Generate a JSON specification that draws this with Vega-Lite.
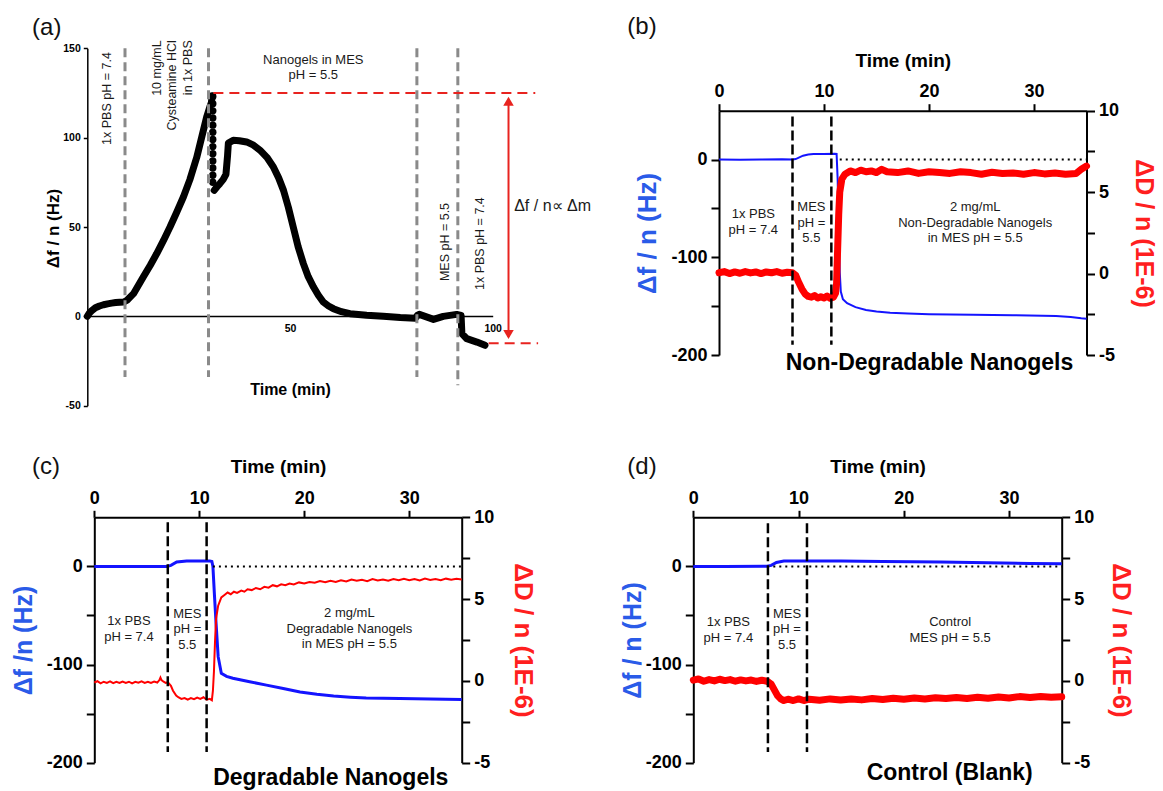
{
"$schema": "https://vega.github.io/schema/vega-lite/v6.json",
"background": "white",
"padding": 0,
"columns": 2,
"spacing": 0,
"bounds": "flush",
"align": "each",
"config": {
  "font": "Liberation Sans",
  "view": {"stroke": null},
  "axis": {"grid": false, "labelFont": "Liberation Sans", "titleFont": "Liberation Sans", "labelFontWeight": "bold", "titleFontWeight": "bold", "labelColor": "#000", "titleColor": "#000", "domainColor": "#000", "tickColor": "#000", "labelOverlap": false, "labelFlush": false},
  "text": {"font": "Liberation Sans"}
},
"concat": [
{
  "width": 580, "height": 440,
  "resolve": {"scale": {"x": "independent", "y": "independent"}},
  "layer": [
    {
      "data": {"values": [
        {"seg":1,"t":0,"v":0},{"seg":1,"t":0.5,"v":1.8},{"seg":1,"t":1,"v":3},{"seg":1,"t":2,"v":4.8},{"seg":1,"t":3,"v":5.8},{"seg":1,"t":4,"v":6.5},{"seg":1,"t":5,"v":7},{"seg":1,"t":6,"v":7.4},{"seg":1,"t":7,"v":7.7},{"seg":1,"t":8,"v":7.9},{"seg":1,"t":9,"v":8},{"seg":1,"t":9.8,"v":9},{"seg":1,"t":11.4,"v":12.7},{"seg":1,"t":13.8,"v":22},{"seg":1,"t":15.5,"v":28.5},{"seg":1,"t":17.1,"v":35},{"seg":1,"t":18.8,"v":42.5},{"seg":1,"t":20.4,"v":50},{"seg":1,"t":22,"v":58},{"seg":1,"t":23.7,"v":66.8},{"seg":1,"t":25.3,"v":76.5},{"seg":1,"t":27,"v":89},{"seg":1,"t":28.3,"v":101},{"seg":1,"t":29.5,"v":112},{"seg":1,"t":30.2,"v":117},{"seg":1,"t":30.6,"v":119.5},{"seg":1,"t":30.8,"v":123.5},
        {"seg":2,"t":31.3,"v":70.5},{"seg":2,"t":32,"v":72.5},{"seg":2,"t":32.7,"v":74.3},{"seg":2,"t":33.5,"v":76.5},{"seg":2,"t":34.2,"v":79.5},{"seg":2,"t":34.6,"v":90},{"seg":2,"t":34.8,"v":97},{"seg":2,"t":36,"v":98.5},{"seg":2,"t":37.5,"v":98.3},{"seg":2,"t":39.3,"v":97.6},{"seg":2,"t":41,"v":95.8},{"seg":2,"t":42.6,"v":93},{"seg":2,"t":44.3,"v":89},{"seg":2,"t":45.9,"v":83.6},{"seg":2,"t":47.2,"v":77.5},{"seg":2,"t":48.4,"v":70.5},{"seg":2,"t":49.6,"v":61},{"seg":2,"t":50.8,"v":50},{"seg":2,"t":52,"v":39},{"seg":2,"t":53.3,"v":29.5},{"seg":2,"t":54.5,"v":22.2},{"seg":2,"t":55.8,"v":16.4},{"seg":2,"t":57,"v":11.8},{"seg":2,"t":58.2,"v":8},{"seg":2,"t":59.5,"v":5.8},{"seg":2,"t":60.7,"v":4.3},{"seg":2,"t":62.7,"v":2.6},{"seg":2,"t":64.8,"v":1.5},{"seg":2,"t":68.9,"v":0.6},{"seg":2,"t":73,"v":0},{"seg":2,"t":77.2,"v":-0.7},{"seg":2,"t":80.9,"v":-1.1},{"seg":2,"t":81.4,"v":0.5},{"seg":2,"t":81.9,"v":1.1},{"seg":2,"t":83.3,"v":0},{"seg":2,"t":85.4,"v":-1.7},{"seg":2,"t":87.8,"v":0},{"seg":2,"t":91.1,"v":1.1},{"seg":2,"t":92.2,"v":0.5},{"seg":2,"t":92.4,"v":-9.7},{"seg":2,"t":93.6,"v":-12.5},{"seg":2,"t":96.1,"v":-14.4},{"seg":2,"t":98.1,"v":-16.2}
      ]},
      "mark": {"type": "line", "color": "#000000", "strokeWidth": 7, "strokeCap": "round", "strokeJoin": "round"},
      "encoding": {
        "x": {"field": "t", "type": "quantitative", "scale": {"domain": [0,100], "range": [87.3,492.7], "nice": false, "zero": false},
              "axis": {"orient": "bottom", "offset": -124, "values": [50,100], "labelFontSize": 10.5, "ticks": false, "tickSize": 0, "domainWidth": 1.5, "labelPadding": 7, "title": "Time (min)", "titleFontSize": 16, "titleX": 290, "titleY": 73, "titleBaseline": "middle", "titleAlign": "center"}},
        "y": {"field": "v", "type": "quantitative", "scale": {"domain": [-50,150], "range": [405.7,48.3], "nice": false, "zero": false},
              "axis": {"orient": "left", "offset": -87.3, "values": [-50,0,50,100,150], "labelExpr": "'' + datum.value", "labelFontSize": 10.5, "tickSize": 4, "tickWidth": 1.5, "domainWidth": 1.5, "labelPadding": 3, "title": "Δf  /  n  (Hz)", "titleFontSize": 17, "titleX": -34, "titleY": 228, "titleAngle": 270, "titleBaseline": "middle", "titleAlign": "center"}},
        "detail": {"field": "seg", "type": "nominal"}
      }
    },
    {
      "data": {"values": [{"t":30.95,"v":123},{"t":30.95,"v":119},{"t":30.95,"v":115},{"t":30.95,"v":111},{"t":30.95,"v":107},{"t":30.95,"v":103},{"t":30.95,"v":99},{"t":30.95,"v":95},{"t":30.95,"v":91},{"t":30.95,"v":87},{"t":30.95,"v":83},{"t":30.95,"v":79},{"t":30.95,"v":75}]},
      "mark": {"type": "point", "filled": true, "color": "#000000", "size": 55, "opacity": 1},
      "encoding": {
        "x": {"field": "t", "type": "quantitative", "scale": {"domain": [0,100], "range": [87.3,492.7], "nice": false, "zero": false}, "axis": null},
        "y": {"field": "v", "type": "quantitative", "scale": {"domain": [-50,150], "range": [405.7,48.3], "nice": false, "zero": false}, "axis": null}
      }
    },
    {
      "data": {"values": [{"t":9.3,"v":150,"v2":-34},{"t":29.9,"v":150,"v2":-34},{"t":81.3,"v":150,"v2":-34},{"t":91.4,"v":150,"v2":-38.6}]},
      "mark": {"type": "rule", "color": "#8a8a8a", "strokeWidth": 3, "strokeDash": [9,5]},
      "encoding": {
        "x": {"field": "t", "type": "quantitative", "scale": {"domain": [0,100], "range": [87.3,492.7], "nice": false, "zero": false}, "axis": null},
        "y": {"field": "v", "type": "quantitative", "scale": {"domain": [-50,150], "range": [405.7,48.3], "nice": false, "zero": false}, "axis": null},
        "y2": {"field": "v2"}
      }
    },
    {
      "data": {"values": [{"t":31.1,"t2":110.5,"v":125},{"t":99,"t2":111.2,"v":-15.1}]},
      "mark": {"type": "rule", "color": "#e8231f", "strokeWidth": 2, "strokeDash": [10,6]},
      "encoding": {
        "x": {"field": "t", "type": "quantitative", "scale": {"domain": [0,100], "range": [87.3,492.7], "nice": false, "zero": false}, "axis": null},
        "x2": {"field": "t2"},
        "y": {"field": "v", "type": "quantitative", "scale": {"domain": [-50,150], "range": [405.7,48.3], "nice": false, "zero": false}, "axis": null}
      }
    },
    {
      "data": {"values": [{"t":103.9,"v":121,"v2":-11.5}]},
      "mark": {"type": "rule", "color": "#e8231f", "strokeWidth": 2},
      "encoding": {
        "x": {"field": "t", "type": "quantitative", "scale": {"domain": [0,100], "range": [87.3,492.7], "nice": false, "zero": false}, "axis": null},
        "y": {"field": "v", "type": "quantitative", "scale": {"domain": [-50,150], "range": [405.7,48.3], "nice": false, "zero": false}, "axis": null},
        "y2": {"field": "v2"}
      }
    },
    {
      "data": {"values": [{"t":103.9,"v":120.4}]},
      "mark": {"type": "point", "shape": "triangle-up", "filled": true, "color": "#e8231f", "size": 110, "opacity": 1},
      "encoding": {
        "x": {"field": "t", "type": "quantitative", "scale": {"domain": [0,100], "range": [87.3,492.7], "nice": false, "zero": false}, "axis": null},
        "y": {"field": "v", "type": "quantitative", "scale": {"domain": [-50,150], "range": [405.7,48.3], "nice": false, "zero": false}, "axis": null}
      }
    },
    {
      "data": {"values": [{"t":103.9,"v":-10.2}]},
      "mark": {"type": "point", "shape": "triangle-down", "filled": true, "color": "#e8231f", "size": 110, "opacity": 1},
      "encoding": {
        "x": {"field": "t", "type": "quantitative", "scale": {"domain": [0,100], "range": [87.3,492.7], "nice": false, "zero": false}, "axis": null},
        "y": {"field": "v", "type": "quantitative", "scale": {"domain": [-50,150], "range": [405.7,48.3], "nice": false, "zero": false}, "axis": null}
      }
    },
    {
      "data": {"values": [{"t":55.75,"v":143.6,"label":"Nanogels in MES\npH = 5.5"}]},
      "mark": {"type": "text", "lineBreak": "\n", "fontSize": 13, "lineHeight": 15.7, "color": "#1a1a1a"},
      "encoding": {
        "x": {"field": "t", "type": "quantitative", "scale": {"domain": [0,100], "range": [87.3,492.7], "nice": false, "zero": false}, "axis": null},
        "y": {"field": "v", "type": "quantitative", "scale": {"domain": [-50,150], "range": [405.7,48.3], "nice": false, "zero": false}, "axis": null},
        "text": {"field": "label"}
      }
    },
    {
      "data": {"values": [{"t":4.8,"v":121.9,"label":"1x PBS pH = 7.4"},{"t":88.2,"v":41.6,"label":"MES pH = 5.5"},{"t":96.9,"v":40.7,"label":"1x PBS pH = 7.4"}]},
      "mark": {"type": "text", "fontSize": 12.5, "angle": 270, "color": "#1a1a1a"},
      "encoding": {
        "x": {"field": "t", "type": "quantitative", "scale": {"domain": [0,100], "range": [87.3,492.7], "nice": false, "zero": false}, "axis": null},
        "y": {"field": "v", "type": "quantitative", "scale": {"domain": [-50,150], "range": [405.7,48.3], "nice": false, "zero": false}, "axis": null},
        "text": {"field": "label"}
      }
    },
    {
      "data": {"values": [{"t":17.1,"v":154.5,"label":"10 mg/mL\nCysteamine HCl\nin 1x  PBS"}]},
      "mark": {"type": "text", "lineBreak": "\n", "fontSize": 12.5, "lineHeight": 15.8, "angle": 270, "align": "right", "baseline": "middle", "color": "#1a1a1a"},
      "encoding": {
        "x": {"field": "t", "type": "quantitative", "scale": {"domain": [0,100], "range": [87.3,492.7], "nice": false, "zero": false}, "axis": null},
        "y": {"field": "v", "type": "quantitative", "scale": {"domain": [-50,150], "range": [405.7,48.3], "nice": false, "zero": false}, "axis": null},
        "text": {"field": "label"}
      }
    },
    {
      "data": {"values": [{"t":105.3,"v":61.6,"label":"Δf / n∝ Δm"}]},
      "mark": {"type": "text", "fontSize": 16, "align": "left", "color": "#1a1a1a"},
      "encoding": {
        "x": {"field": "t", "type": "quantitative", "scale": {"domain": [0,100], "range": [87.3,492.7], "nice": false, "zero": false}, "axis": null},
        "y": {"field": "v", "type": "quantitative", "scale": {"domain": [-50,150], "range": [405.7,48.3], "nice": false, "zero": false}, "axis": null},
        "text": {"field": "label"}
      }
    },
    {
      "data": {"values": [{"t":-10,"v":161.4,"label":"(a)"}]},
      "mark": {"type": "text", "fontSize": 24, "color": "#111"},
      "encoding": {
        "x": {"field": "t", "type": "quantitative", "scale": {"domain": [0,100], "range": [87.3,492.7], "nice": false, "zero": false}, "axis": null},
        "y": {"field": "v", "type": "quantitative", "scale": {"domain": [-50,150], "range": [405.7,48.3], "nice": false, "zero": false}, "axis": null},
        "text": {"field": "label"}
      }
    }
  ]
},
{
  "width": 580, "height": 440,
  "resolve": {"scale": {"x": "independent", "y": "independent"}},
  "layer": [
    {
      "data": {"values": [{"t":0,"v":0},{"t":2,"v":-0.2},{"t":4,"v":0},{"t":6,"v":0.2},{"t":7,"v":0},{"t":7.3,"v":0.5},{"t":7.6,"v":2},{"t":8,"v":4},{"t":8.5,"v":5.2},{"t":9,"v":5.8},{"t":10,"v":5.8},{"t":11,"v":6},{"t":11.2,"v":5.8},{"t":11.3,"v":-20},{"t":11.4,"v":-70},{"t":11.5,"v":-115},{"t":11.6,"v":-135},{"t":11.8,"v":-143},{"t":12.2,"v":-147},{"t":13,"v":-151},{"t":14,"v":-154},{"t":15,"v":-155.5},{"t":16.3,"v":-156.7},{"t":18,"v":-157.5},{"t":20,"v":-158.2},{"t":24.2,"v":-158.7},{"t":28,"v":-159.3},{"t":32.1,"v":-160},{"t":33.5,"v":-161},{"t":34.5,"v":-162.3},{"t":35,"v":-162.8}]},
      "mark": {"type": "line", "color": "#1414ff", "strokeWidth": 2},
      "encoding": {
        "x": {"field": "t", "type": "quantitative", "scale": {"domain": [0,35], "range": [139,506.5], "nice": false, "zero": false},
              "axis": {"orient": "top", "offset": -110.7, "values": [0,10,20,30], "labelFontSize": 18, "tickSize": 7, "tickWidth": 2, "domainWidth": 2, "labelPadding": 3, "title": "Time (min)", "titleFontSize": 19, "titleX": 322.75, "titleY": -50.7, "titleBaseline": "middle", "titleAlign": "center"}},
        "y": {"field": "v", "type": "quantitative", "scale": {"domain": [-200,50], "range": [355,110.7], "nice": false, "zero": false},
              "axis": {"orient": "left", "offset": -139, "values": [-200,-150,-100,-50,0], "labelExpr": "datum.value % 100 === 0 ? '' + datum.value : ''", "labelFontSize": 18, "tickSize": 8, "tickWidth": 2, "domainWidth": 2, "labelPadding": 4, "title": "Δf  /  n (Hz)", "titleColor": "#2a5be8", "titleFontSize": 26, "titleX": -72, "titleY": 233, "titleAngle": 270, "titleBaseline": "middle", "titleAlign": "center"}}
      }
    },
    {
      "data": {"values": [{"t":0,"v":0.05},{"t":0.5,"v":0.12},{"t":1,"v":0},{"t":1.5,"v":0.1},{"t":2,"v":0.02},{"t":2.5,"v":0.12},{"t":3,"v":0.04},{"t":3.5,"v":0.1},{"t":4,"v":0},{"t":4.5,"v":0.1},{"t":5,"v":0.05},{"t":5.5,"v":0.12},{"t":6,"v":0.02},{"t":6.5,"v":0.08},{"t":7,"v":0.05},{"t":7.3,"v":-0.1},{"t":7.6,"v":-0.55},{"t":7.9,"v":-0.95},{"t":8.2,"v":-1.25},{"t":8.5,"v":-1.4},{"t":8.8,"v":-1.45},{"t":9.1,"v":-1.35},{"t":9.4,"v":-1.5},{"t":9.7,"v":-1.42},{"t":10,"v":-1.5},{"t":10.3,"v":-1.38},{"t":10.6,"v":-1.52},{"t":10.9,"v":-1.45},{"t":11.1,"v":-1.2},{"t":11.2,"v":-0.6},{"t":11.3,"v":1.5},{"t":11.4,"v":3.6},{"t":11.5,"v":5},{"t":11.7,"v":5.8},{"t":12,"v":6.1},{"t":12.5,"v":6.3},{"t":13,"v":6.2},{"t":13.5,"v":6.35},{"t":14,"v":6.25},{"t":14.5,"v":6.3},{"t":15,"v":6.2},{"t":15.5,"v":6.4},{"t":16,"v":6.25},{"t":17,"v":6.2},{"t":18,"v":6.3},{"t":19,"v":6.15},{"t":20,"v":6.25},{"t":21,"v":6.2},{"t":22,"v":6.15},{"t":23,"v":6.25},{"t":24,"v":6.2},{"t":25,"v":6.1},{"t":26,"v":6.22},{"t":27,"v":6.15},{"t":28,"v":6.18},{"t":29,"v":6.1},{"t":30,"v":6.2},{"t":31,"v":6.12},{"t":32,"v":6.18},{"t":33,"v":6.1},{"t":34,"v":6.15},{"t":34.5,"v":6.4},{"t":35,"v":6.6}]},
      "mark": {"type": "line", "color": "#ff0000", "strokeWidth": 7, "strokeJoin": "round", "strokeCap": "round"},
      "encoding": {
        "x": {"field": "t", "type": "quantitative", "scale": {"domain": [0,35], "range": [139,506.5], "nice": false, "zero": false}, "axis": null},
        "y": {"field": "v", "type": "quantitative", "scale": {"domain": [-5,10], "range": [355,110.7], "nice": false, "zero": false},
              "axis": {"orient": "right", "offset": -73.5, "values": [-5,-2.5,0,2.5,5,7.5,10], "labelExpr": "datum.value % 5 === 0 ? '' + datum.value : ''", "labelFontSize": 18, "tickSize": 8, "tickWidth": 2, "domainWidth": 2, "labelPadding": 4, "title": "ΔD / n (1E-6)", "titleColor": "#ff1f1f", "titleFontSize": 25, "titleX": 57, "titleY": 233, "titleAngle": 90, "titleBaseline": "middle", "titleAlign": "center"}}
      }
    },
    {
      "data": {"values": [{"t":7.0,"v":44,"v2":-189.6},{"t":10.7,"v":44,"v2":-189.6}]},
      "mark": {"type": "rule", "color": "#000", "strokeWidth": 2.5, "strokeDash": [10,4]},
      "encoding": {
        "x": {"field": "t", "type": "quantitative", "scale": {"domain": [0,35], "range": [139,506.5], "nice": false, "zero": false}, "axis": null},
        "y": {"field": "v", "type": "quantitative", "scale": {"domain": [-200,50], "range": [355,110.7], "nice": false, "zero": false}, "axis": null},
        "y2": {"field": "v2"}
      }
    },
    {
      "data": {"values": [{"t":11.5,"t2":35,"v":0}]},
      "mark": {"type": "rule", "color": "#000", "strokeWidth": 2, "strokeDash": [2,4]},
      "encoding": {
        "x": {"field": "t", "type": "quantitative", "scale": {"domain": [0,35], "range": [139,506.5], "nice": false, "zero": false}, "axis": null},
        "x2": {"field": "t2"},
        "y": {"field": "v", "type": "quantitative", "scale": {"domain": [-200,50], "range": [355,110.7], "nice": false, "zero": false}, "axis": null}
      }
    },
    {
      "data": {"values": [{"t":3.27,"v":-56,"label":"1x PBS\npH = 7.4"},{"t":8.8,"v":-48.5,"label":"MES\npH =\n5.5"},{"t":24.4,"v":-48.5,"label":"2 mg/mL\nNon-Degradable Nanogels\nin MES pH = 5.5"}]},
      "mark": {"type": "text", "lineBreak": "\n", "fontSize": 13, "lineHeight": 15.7, "color": "#1a1a1a"},
      "encoding": {
        "x": {"field": "t", "type": "quantitative", "scale": {"domain": [0,35], "range": [139,506.5], "nice": false, "zero": false}, "axis": null},
        "y": {"field": "v", "type": "quantitative", "scale": {"domain": [-200,50], "range": [355,110.7], "nice": false, "zero": false}, "axis": null},
        "text": {"field": "label"}
      }
    },
    {
      "data": {"values": [{"t":20.05,"v":-208.4,"label":"Non-Degradable Nanogels"}]},
      "mark": {"type": "text", "fontSize": 23, "fontWeight": "bold", "color": "#000"},
      "encoding": {
        "x": {"field": "t", "type": "quantitative", "scale": {"domain": [0,35], "range": [139,506.5], "nice": false, "zero": false}, "axis": null},
        "y": {"field": "v", "type": "quantitative", "scale": {"domain": [-200,50], "range": [355,110.7], "nice": false, "zero": false}, "axis": null},
        "text": {"field": "label"}
      }
    },
    {
      "data": {"values": [{"t":-7.33,"v":135.2,"label":"(b)"}]},
      "mark": {"type": "text", "fontSize": 24, "color": "#111"},
      "encoding": {
        "x": {"field": "t", "type": "quantitative", "scale": {"domain": [0,35], "range": [139,506.5], "nice": false, "zero": false}, "axis": null},
        "y": {"field": "v", "type": "quantitative", "scale": {"domain": [-200,50], "range": [355,110.7], "nice": false, "zero": false}, "axis": null},
        "text": {"field": "label"}
      }
    }
  ]
},
{
  "width": 580, "height": 351,
  "resolve": {"scale": {"x": "independent", "y": "independent"}},
  "layer": [
    {
      "data": {"values": [{"t":0,"v":0},{"t":3,"v":0},{"t":6.9,"v":0},{"t":7.3,"v":1},{"t":7.85,"v":4.4},{"t":8.8,"v":5.5},{"t":10,"v":5.5},{"t":11,"v":5.5},{"t":11.2,"v":5},{"t":11.3,"v":0},{"t":11.45,"v":-30},{"t":11.6,"v":-58},{"t":11.8,"v":-92},{"t":12.1,"v":-109},{"t":12.6,"v":-112},{"t":13.2,"v":-114},{"t":14.8,"v":-117.5},{"t":16.4,"v":-121},{"t":18,"v":-124.5},{"t":19.6,"v":-128},{"t":21.2,"v":-130.3},{"t":22.8,"v":-132},{"t":24.4,"v":-133.2},{"t":25.9,"v":-134},{"t":29.1,"v":-134.6},{"t":32,"v":-135.2},{"t":35,"v":-135.6}]},
      "mark": {"type": "line", "color": "#1414ff", "strokeWidth": 3},
      "encoding": {
        "x": {"field": "t", "type": "quantitative", "scale": {"domain": [0,35], "range": [94.3,461.7], "nice": false, "zero": false},
              "axis": {"orient": "top", "offset": -77.3, "values": [0,10,20,30], "labelFontSize": 18, "tickSize": 7, "tickWidth": 2, "domainWidth": 2, "labelPadding": 3, "title": "Time (min)", "titleFontSize": 19, "titleX": 278, "titleY": -51.3, "titleBaseline": "middle", "titleAlign": "center"}},
        "y": {"field": "v", "type": "quantitative", "scale": {"domain": [-200,50], "range": [322.7,77.3], "nice": false, "zero": false},
              "axis": {"orient": "left", "offset": -94.3, "values": [-200,-150,-100,-50,0], "labelExpr": "datum.value % 100 === 0 ? '' + datum.value : ''", "labelFontSize": 18, "tickSize": 8, "tickWidth": 2, "domainWidth": 2, "labelPadding": 4, "title": "Δf /n (Hz)", "titleColor": "#2a5be8", "titleFontSize": 25, "titleX": -71, "titleY": 200, "titleAngle": 270, "titleBaseline": "middle", "titleAlign": "center"}}
      }
    },
    {
      "data": {"values": [{"t":0,"v":-0.1},{"t":0.3,"v":-0.02},{"t":0.6,"v":-0.15},{"t":0.9,"v":-0.05},{"t":1.2,"v":-0.12},{"t":1.5,"v":-0.03},{"t":1.8,"v":-0.14},{"t":2.1,"v":-0.06},{"t":2.4,"v":-0.13},{"t":2.7,"v":-0.04},{"t":3,"v":-0.12},{"t":3.3,"v":-0.05},{"t":3.6,"v":-0.15},{"t":3.9,"v":-0.06},{"t":4.2,"v":-0.11},{"t":4.5,"v":-0.03},{"t":4.8,"v":-0.12},{"t":5.1,"v":-0.05},{"t":5.4,"v":-0.13},{"t":5.7,"v":-0.04},{"t":6,"v":-0.1},{"t":6.2,"v":0.05},{"t":6.3,"v":0.2},{"t":6.4,"v":0.05},{"t":6.6,"v":-0.05},{"t":6.8,"v":-0.12},{"t":7,"v":-0.08},{"t":7.3,"v":-0.3},{"t":7.5,"v":-0.6},{"t":7.8,"v":-0.9},{"t":8,"v":-1},{"t":8.3,"v":-1.1},{"t":8.6,"v":-1.05},{"t":8.9,"v":-1.15},{"t":9.2,"v":-1.05},{"t":9.5,"v":-1.12},{"t":9.8,"v":-1.02},{"t":10.1,"v":-1.1},{"t":10.4,"v":-1},{"t":10.7,"v":-1.15},{"t":11,"v":-1.1},{"t":11.2,"v":-1.18},{"t":11.3,"v":-0.6},{"t":11.4,"v":0.6},{"t":11.5,"v":2.4},{"t":11.6,"v":3.8},{"t":11.8,"v":4.6},{"t":12.1,"v":5.1},{"t":12.4,"v":5.25},{"t":12.7,"v":5.4},{"t":13,"v":5.3},{"t":13.3,"v":5.45},{"t":13.6,"v":5.38},{"t":14,"v":5.52},{"t":14.3,"v":5.45},{"t":14.6,"v":5.6},{"t":15,"v":5.55},{"t":15.4,"v":5.68},{"t":15.8,"v":5.6},{"t":16.2,"v":5.75},{"t":16.6,"v":5.7},{"t":17,"v":5.85},{"t":17.4,"v":5.78},{"t":17.8,"v":5.9},{"t":18.2,"v":5.85},{"t":18.6,"v":5.95},{"t":19,"v":5.9},{"t":19.5,"v":6.02},{"t":20,"v":5.95},{"t":20.5,"v":6.05},{"t":21,"v":6},{"t":21.5,"v":6.1},{"t":22,"v":6.03},{"t":22.5,"v":6.12},{"t":23,"v":6.05},{"t":23.5,"v":6.15},{"t":24,"v":6.08},{"t":24.5,"v":6.2},{"t":25,"v":6.12},{"t":25.5,"v":6.18},{"t":26,"v":6.1},{"t":26.5,"v":6.22},{"t":27,"v":6.14},{"t":27.5,"v":6.2},{"t":28,"v":6.12},{"t":28.5,"v":6.22},{"t":29,"v":6.15},{"t":29.5,"v":6.24},{"t":30,"v":6.16},{"t":30.5,"v":6.22},{"t":31,"v":6.14},{"t":31.5,"v":6.25},{"t":32,"v":6.17},{"t":32.5,"v":6.23},{"t":33,"v":6.15},{"t":33.5,"v":6.25},{"t":34,"v":6.18},{"t":34.5,"v":6.24},{"t":35,"v":6.2}]},
      "mark": {"type": "line", "color": "#ff0000", "strokeWidth": 2},
      "encoding": {
        "x": {"field": "t", "type": "quantitative", "scale": {"domain": [0,35], "range": [94.3,461.7], "nice": false, "zero": false}, "axis": null},
        "y": {"field": "v", "type": "quantitative", "scale": {"domain": [-5,10], "range": [322.7,77.3], "nice": false, "zero": false},
              "axis": {"orient": "right", "offset": -118.3, "values": [-5,-2.5,0,2.5,5,7.5,10], "labelExpr": "datum.value % 5 === 0 ? '' + datum.value : ''", "labelFontSize": 18, "tickSize": 8, "tickWidth": 2, "domainWidth": 2, "labelPadding": 4, "title": "ΔD / n (1E-6)", "titleColor": "#ff1f1f", "titleFontSize": 26, "titleX": 60.3, "titleY": 200, "titleAngle": 90, "titleBaseline": "middle", "titleAlign": "center"}}
      }
    },
    {
      "data": {"values": [{"t":7.0,"v":45,"v2":-189},{"t":10.7,"v":45,"v2":-189}]},
      "mark": {"type": "rule", "color": "#000", "strokeWidth": 2.5, "strokeDash": [10,4]},
      "encoding": {
        "x": {"field": "t", "type": "quantitative", "scale": {"domain": [0,35], "range": [94.3,461.7], "nice": false, "zero": false}, "axis": null},
        "y": {"field": "v", "type": "quantitative", "scale": {"domain": [-200,50], "range": [322.7,77.3], "nice": false, "zero": false}, "axis": null},
        "y2": {"field": "v2"}
      }
    },
    {
      "data": {"values": [{"t":11.3,"t2":35,"v":0}]},
      "mark": {"type": "rule", "color": "#000", "strokeWidth": 2, "strokeDash": [2,4]},
      "encoding": {
        "x": {"field": "t", "type": "quantitative", "scale": {"domain": [0,35], "range": [94.3,461.7], "nice": false, "zero": false}, "axis": null},
        "x2": {"field": "t2"},
        "y": {"field": "v", "type": "quantitative", "scale": {"domain": [-200,50], "range": [322.7,77.3], "nice": false, "zero": false}, "axis": null}
      }
    },
    {
      "data": {"values": [{"t":3.3,"v":-56,"label":"1x PBS\npH = 7.4"},{"t":8.86,"v":-48.1,"label":"MES\npH =\n5.5"},{"t":24.3,"v":-47.5,"label":"2 mg/mL\nDegradable Nanogels\nin MES pH = 5.5"}]},
      "mark": {"type": "text", "lineBreak": "\n", "fontSize": 13, "lineHeight": 15.7, "color": "#1a1a1a"},
      "encoding": {
        "x": {"field": "t", "type": "quantitative", "scale": {"domain": [0,35], "range": [94.3,461.7], "nice": false, "zero": false}, "axis": null},
        "y": {"field": "v", "type": "quantitative", "scale": {"domain": [-200,50], "range": [322.7,77.3], "nice": false, "zero": false}, "axis": null},
        "text": {"field": "label"}
      }
    },
    {
      "data": {"values": [{"t":22.53,"v":-215.9,"label":"Degradable Nanogels"}]},
      "mark": {"type": "text", "fontSize": 23, "fontWeight": "bold", "color": "#000"},
      "encoding": {
        "x": {"field": "t", "type": "quantitative", "scale": {"domain": [0,35], "range": [94.3,461.7], "nice": false, "zero": false}, "axis": null},
        "y": {"field": "v", "type": "quantitative", "scale": {"domain": [-200,50], "range": [322.7,77.3], "nice": false, "zero": false}, "axis": null},
        "text": {"field": "label"}
      }
    },
    {
      "data": {"values": [{"t":-4.6,"v":101.6,"label":"(c)"}]},
      "mark": {"type": "text", "fontSize": 24, "color": "#111"},
      "encoding": {
        "x": {"field": "t", "type": "quantitative", "scale": {"domain": [0,35], "range": [94.3,461.7], "nice": false, "zero": false}, "axis": null},
        "y": {"field": "v", "type": "quantitative", "scale": {"domain": [-200,50], "range": [322.7,77.3], "nice": false, "zero": false}, "axis": null},
        "text": {"field": "label"}
      }
    }
  ]
},
{
  "width": 580, "height": 351,
  "resolve": {"scale": {"x": "independent", "y": "independent"}},
  "layer": [
    {
      "data": {"values": [{"t":0,"v":0},{"t":3,"v":0},{"t":7,"v":0.2},{"t":7.4,"v":1},{"t":7.9,"v":4},{"t":8.6,"v":5.4},{"t":10,"v":5.5},{"t":14,"v":5.4},{"t":18,"v":5},{"t":23.5,"v":4.4},{"t":28,"v":3.6},{"t":32,"v":3},{"t":35,"v":2.6}]},
      "mark": {"type": "line", "color": "#1414ff", "strokeWidth": 3},
      "encoding": {
        "x": {"field": "t", "type": "quantitative", "scale": {"domain": [0,35], "range": [113.3,481.7], "nice": false, "zero": false},
              "axis": {"orient": "top", "offset": -77.3, "values": [0,10,20,30], "labelFontSize": 18, "tickSize": 7, "tickWidth": 2, "domainWidth": 2, "labelPadding": 3, "title": "Time (min)", "titleFontSize": 19, "titleX": 297.5, "titleY": -51.3, "titleBaseline": "middle", "titleAlign": "center"}},
        "y": {"field": "v", "type": "quantitative", "scale": {"domain": [-200,50], "range": [322.7,77.3], "nice": false, "zero": false},
              "axis": {"orient": "left", "offset": -113.3, "values": [-200,-150,-100,-50,0], "labelExpr": "datum.value % 100 === 0 ? '' + datum.value : ''", "labelFontSize": 18, "tickSize": 8, "tickWidth": 2, "domainWidth": 2, "labelPadding": 4, "title": "Δf / n (Hz)", "titleColor": "#2a5be8", "titleFontSize": 25, "titleX": -61.3, "titleY": 200, "titleAngle": 270, "titleBaseline": "middle", "titleAlign": "center"}}
      }
    },
    {
      "data": {"values": [{"t":0,"v":0.05},{"t":0.5,"v":0.12},{"t":1,"v":-0.02},{"t":1.5,"v":0.08},{"t":2,"v":0},{"t":2.5,"v":0.1},{"t":3,"v":0.02},{"t":3.5,"v":0.08},{"t":4,"v":-0.02},{"t":4.5,"v":0.06},{"t":5,"v":0},{"t":5.5,"v":0.05},{"t":6,"v":-0.03},{"t":6.5,"v":0.04},{"t":7,"v":-0.02},{"t":7.4,"v":-0.2},{"t":7.7,"v":-0.55},{"t":8,"v":-0.9},{"t":8.3,"v":-1.1},{"t":8.6,"v":-1.2},{"t":9,"v":-1.12},{"t":9.5,"v":-1.2},{"t":10,"v":-1.1},{"t":10.5,"v":-1.2},{"t":11,"v":-1.12},{"t":12,"v":-1.18},{"t":13,"v":-1.1},{"t":14,"v":-1.17},{"t":15,"v":-1.1},{"t":16,"v":-1.16},{"t":17,"v":-1.08},{"t":18,"v":-1.14},{"t":19,"v":-1.06},{"t":20,"v":-1.12},{"t":21,"v":-1.05},{"t":22,"v":-1.1},{"t":23,"v":-1.03},{"t":24,"v":-1.08},{"t":25,"v":-1.02},{"t":26,"v":-1.07},{"t":27,"v":-1},{"t":28,"v":-1.06},{"t":29,"v":-0.98},{"t":30,"v":-1.04},{"t":31,"v":-0.96},{"t":32,"v":-1.02},{"t":33,"v":-0.95},{"t":34,"v":-1},{"t":35,"v":-0.97}]},
      "mark": {"type": "line", "color": "#ff0000", "strokeWidth": 7, "strokeJoin": "round", "strokeCap": "round"},
      "encoding": {
        "x": {"field": "t", "type": "quantitative", "scale": {"domain": [0,35], "range": [113.3,481.7], "nice": false, "zero": false}, "axis": null},
        "y": {"field": "v", "type": "quantitative", "scale": {"domain": [-5,10], "range": [322.7,77.3], "nice": false, "zero": false},
              "axis": {"orient": "right", "offset": -98.3, "values": [-5,-2.5,0,2.5,5,7.5,10], "labelExpr": "datum.value % 5 === 0 ? '' + datum.value : ''", "labelFontSize": 18, "tickSize": 8, "tickWidth": 2, "domainWidth": 2, "labelPadding": 4, "title": "ΔD / n (1E-6)", "titleColor": "#ff1f1f", "titleFontSize": 26, "titleX": 58.3, "titleY": 200, "titleAngle": 90, "titleBaseline": "middle", "titleAlign": "center"}}
      }
    },
    {
      "data": {"values": [{"t":7.09,"v":44,"v2":-189},{"t":10.8,"v":44,"v2":-189}]},
      "mark": {"type": "rule", "color": "#000", "strokeWidth": 2.5, "strokeDash": [10,4]},
      "encoding": {
        "x": {"field": "t", "type": "quantitative", "scale": {"domain": [0,35], "range": [113.3,481.7], "nice": false, "zero": false}, "axis": null},
        "y": {"field": "v", "type": "quantitative", "scale": {"domain": [-200,50], "range": [322.7,77.3], "nice": false, "zero": false}, "axis": null},
        "y2": {"field": "v2"}
      }
    },
    {
      "data": {"values": [{"t":7.6,"t2":35,"v":0}]},
      "mark": {"type": "rule", "color": "#000", "strokeWidth": 2, "strokeDash": [2,4]},
      "encoding": {
        "x": {"field": "t", "type": "quantitative", "scale": {"domain": [0,35], "range": [113.3,481.7], "nice": false, "zero": false}, "axis": null},
        "x2": {"field": "t2"},
        "y": {"field": "v", "type": "quantitative", "scale": {"domain": [-200,50], "range": [322.7,77.3], "nice": false, "zero": false}, "axis": null}
      }
    },
    {
      "data": {"values": [{"t":3.33,"v":-56.7,"label":"1x PBS\npH = 7.4"},{"t":8.9,"v":-48.1,"label":"MES\npH =\n5.5"},{"t":24.4,"v":-56.7,"label":"Control\nMES pH = 5.5"}]},
      "mark": {"type": "text", "lineBreak": "\n", "fontSize": 13, "lineHeight": 15.7, "color": "#1a1a1a"},
      "encoding": {
        "x": {"field": "t", "type": "quantitative", "scale": {"domain": [0,35], "range": [113.3,481.7], "nice": false, "zero": false}, "axis": null},
        "y": {"field": "v", "type": "quantitative", "scale": {"domain": [-200,50], "range": [322.7,77.3], "nice": false, "zero": false}, "axis": null},
        "text": {"field": "label"}
      }
    },
    {
      "data": {"values": [{"t":24.36,"v":-210.8,"label":"Control (Blank)"}]},
      "mark": {"type": "text", "fontSize": 23, "fontWeight": "bold", "color": "#000"},
      "encoding": {
        "x": {"field": "t", "type": "quantitative", "scale": {"domain": [0,35], "range": [113.3,481.7], "nice": false, "zero": false}, "axis": null},
        "y": {"field": "v", "type": "quantitative", "scale": {"domain": [-200,50], "range": [322.7,77.3], "nice": false, "zero": false}, "axis": null},
        "text": {"field": "label"}
      }
    },
    {
      "data": {"values": [{"t":-4.87,"v":101.6,"label":"(d)"}]},
      "mark": {"type": "text", "fontSize": 24, "color": "#111"},
      "encoding": {
        "x": {"field": "t", "type": "quantitative", "scale": {"domain": [0,35], "range": [113.3,481.7], "nice": false, "zero": false}, "axis": null},
        "y": {"field": "v", "type": "quantitative", "scale": {"domain": [-200,50], "range": [322.7,77.3], "nice": false, "zero": false}, "axis": null},
        "text": {"field": "label"}
      }
    }
  ]
}
]
}
